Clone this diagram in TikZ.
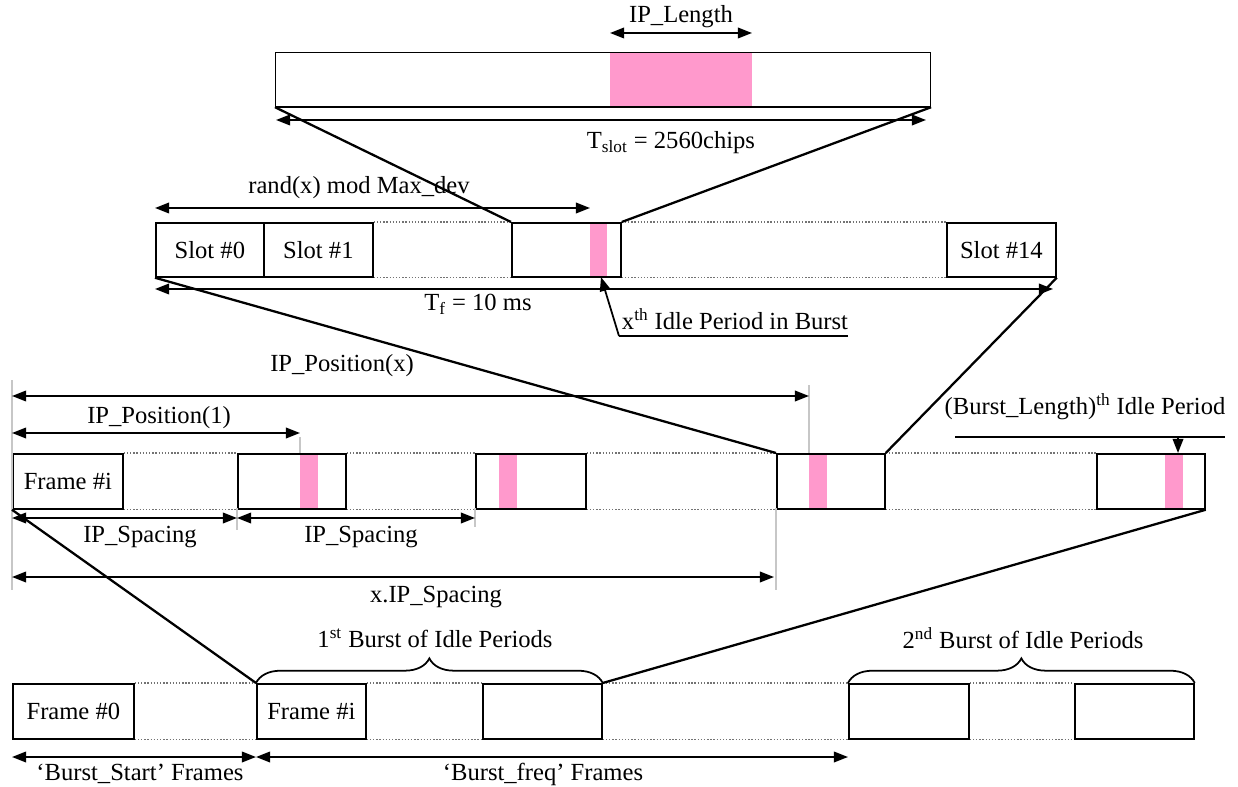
\documentclass[tikz,border=0pt]{standalone}
\usepackage{fontspec}
\setmainfont{Liberation Serif}
\usetikzlibrary{arrows.meta, decorations.pathreplacing, positioning}
\definecolor{idlepink}{RGB}{255,153,204}
\tikzset{frm/.style={draw, line width=1pt, rectangle, inner sep=0pt, anchor=north west,
        minimum width=#1, minimum height=1.1cm},
    idle/.style={fill=idlepink},
    dim/.style={<->, line width=1pt},
    zoomline/.style={draw, line width=1.3pt},
    guide/.style={draw=black!22, line width=0.9pt},
    dots/.style={draw=black!55, densely dotted, line width=0.8pt},
    burst/.style={draw, line width=1pt, decorate, decoration={brace, amplitude=14pt}}}

\begin{document}
\begin{tikzpicture}[
    x=0.02cm, y=-0.02cm,
    every node/.style={font=\fontsize{14}{16}\selectfont},
    >={Triangle[length=8pt,width=6pt]}
  ]
  \useasboundingbox (0,0) rectangle (1238,787);

  % Slot with idle period
  \fill[idle] (610,52) rectangle (752,106);
  \node[frm=13.1cm, minimum height=1.08cm, line width=0.7pt] (slotbar) at (275,52) {};
  \draw[line width=1.2pt] (slotbar.south west) -- (slotbar.south east);
  \coordinate (ipl0) at (610,33);
  \coordinate (ipl1) at (752,33);
  \draw[dim] (ipl0) -- (ipl1);
  \node (lblipl) at (681,17) {IP\_Length};
  \coordinate (ts0) at (276,120);
  \coordinate (ts1) at (926,120);
  \draw[dim] (ts0) -- (ts1);
  \node (lblts) at (671,143) {T\textsubscript{slot} = 2560chips};

  % Frame of 15 slots
  \fill[idle] (590,222) rectangle (607,276);
  \node[frm=2.16cm, minimum height=1.08cm] (s0) at (155,222) {Slot \#0};
  \node[frm=2.18cm, minimum height=1.08cm] (s1) at (263,222) {Slot \#1};
  \node[frm=2.18cm, minimum height=1.08cm] (sx) at (511,222) {};
  \node[frm=2.18cm, minimum height=1.08cm] (s14) at (946,222) {Slot \#14};
  \draw[dots] (s1.north east) -- (sx.north west) (sx.north east) -- (s14.north west);
  \draw[dots] (s1.south east) -- (sx.south west) (sx.south east) -- (s14.south west);
  \draw[zoomline] (slotbar.south west) -- (sx.north west);
  \draw[zoomline] (slotbar.south east) -- (sx.north east);
  \coordinate (rd0) at (155,208);
  \coordinate (rd1) at (590,208);
  \draw[dim] (rd0) -- (rd1);
  \node (lblrd) at (359,188) {rand(x) mod Max\_dev};
  \coordinate (tf0) at (155,289);
  \coordinate (tf1) at (1053,289);
  \draw[dim] (tf0) -- (tf1);
  \node (lbltf) at (478,304) {T\textsubscript{f} = 10 ms};
  \coordinate (xt0) at (619,336);
  \coordinate (xt1) at (848,336);
  \coordinate (xtip) at (601,277);
  \draw[line width=1pt] (xt1) -- (xt0);
  \draw[->, line width=1pt] (xt0) -- (xtip);
  \node (lblxt) at (735,319) {x\textsuperscript{th} Idle Period in Burst};

  % Burst of idle periods
  \fill[idle] (300,453) rectangle (318,508);
  \fill[idle] (499,453) rectangle (517,508);
  \fill[idle] (809,453) rectangle (827,508);
  \fill[idle] (1165,453) rectangle (1183,508);
  \node[frm=2.2cm] (frmi) at (12,453) {Frame \#i};
  \node[frm=2.16cm] (ipb2) at (237,453) {};
  \node[frm=2.2cm] (ipb3) at (475,453) {};
  \node[frm=2.16cm] (ipb4) at (776,453) {};
  \node[frm=2.16cm] (ipb5) at (1096,453) {};
  \foreach \a/\b in {frmi/ipb2, ipb2/ipb3, ipb3/ipb4, ipb4/ipb5} {
    \draw[dots] (\a.north east) -- (\b.north west);
    \draw[dots] (\a.south east) -- (\b.south west);
  }
  \draw[zoomline] (s0.south west) -- (ipb4.north west);
  \draw[zoomline] (s14.south east) -- (ipb4.north east);

  \draw[guide] (12,380) -- (12,590);
  \draw[guide] (300,437) -- (300,453);
  \draw[guide] (809,385) -- (809,453);
  \draw[guide] (237,508) -- (237,530);
  \draw[guide] (475,508) -- (475,527);
  \draw[guide] (776,508) -- (776,590);

  \coordinate (px0) at (12,396);
  \coordinate (px1) at (809,396);
  \draw[dim] (px0) -- (px1);
  \node (lblpx) at (342,366) {IP\_Position(x)};
  \coordinate (p10) at (12,433);
  \coordinate (p11) at (300,433);
  \draw[dim] (p10) -- (p11);
  \node (lblp1) at (159,418) {IP\_Position(1)};
  \coordinate (sp0) at (12,518);
  \coordinate (sp1) at (237,518);
  \coordinate (sp2) at (475,518);
  \draw[dim] (sp0) -- (sp1);
  \draw[dim] (sp1) -- (sp2);
  \node (lblsp1) at (140,537) {IP\_Spacing};
  \node (lblsp2) at (361,537) {IP\_Spacing};
  \coordinate (xs0) at (12,577);
  \coordinate (xs1) at (774,577);
  \draw[dim] (xs0) -- (xs1);
  \node (lblxs) at (436,597) {x.IP\_Spacing};
  \coordinate (bl0) at (955,437);
  \coordinate (bl1) at (1225,437);
  \coordinate (bltip) at (1178,453);
  \draw[line width=1pt] (bl0) -- (bl1);
  \draw[->, line width=1pt] (1178,437) -- (bltip);
  \node (lblbl) at (1085,407) {(Burst\_Length)\textsuperscript{th} Idle Period};

  % Frames and bursts
  \node[frm=2.42cm] (fr0) at (12,683) {Frame \#0};
  \node[frm=2.18cm] (fri) at (256,683) {Frame \#i};
  \node[frm=2.38cm] (fb2) at (482,683) {};
  \node[frm=2.4cm] (fb3) at (848,683) {};
  \node[frm=2.38cm] (fb4) at (1074,683) {};
  \foreach \a/\b in {fr0/fri, fri/fb2, fb2/fb3, fb3/fb4} {
    \draw[dots] (\a.north east) -- (\b.north west);
    \draw[dots] (\a.south east) -- (\b.south west);
  }
  \draw[zoomline] (frmi.south west) -- (fri.north west);
  \draw[zoomline] (ipb5.south east) -- (fb2.north east);
  \draw[burst] (fri.north west) -- (fb2.north east);
  \draw[burst] (fb3.north west) -- (fb4.north east);
  \node (lblb1) at (435,638) {1\textsuperscript{st} Burst of Idle Periods};
  \node (lblb2) at (1023,638) {2\textsuperscript{nd} Burst of Idle Periods};
  \coordinate (bs0) at (12,757);
  \coordinate (bs1) at (256,757);
  \coordinate (bf1) at (848,757);
  \draw[dim] (bs0) -- (bs1);
  \draw[dim] (bs1) -- (bf1);
  \node (lblbs) at (140,774) {`Burst\_Start' Frames};
  \node (lblbf) at (543,774) {`Burst\_freq' Frames};
\end{tikzpicture}
\end{document}
